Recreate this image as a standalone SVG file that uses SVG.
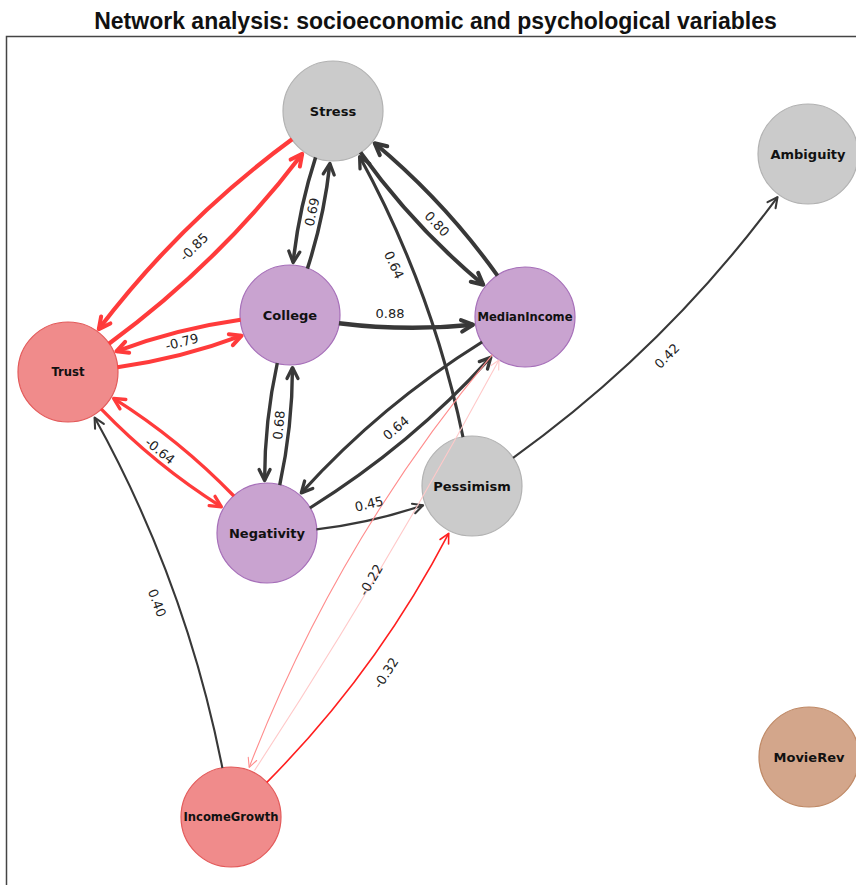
<svg xmlns="http://www.w3.org/2000/svg" width="856" height="885" viewBox="0 0 856 885">
<style>
.title{font-family:"Liberation Sans",Arial,sans-serif;font-weight:bold;font-size:23px;text-anchor:middle;fill:#111}
.nl{font-family:"DejaVu Sans",Verdana,sans-serif;font-weight:bold;font-size:13px;text-anchor:middle;fill:#111}
.nls{font-size:11.6px}
.el{font-family:"DejaVu Sans",Verdana,sans-serif;font-size:13px;text-anchor:middle;dominant-baseline:central;fill:#222}
.gray{fill:#cbcbcb;stroke:#b2b2b2;stroke-width:1.2}
.purple{fill:#c9a3d0;stroke:#a66fb9;stroke-width:1.2}
.red{fill:#f08b8b;stroke:#e35a5a;stroke-width:1.2}
.brown{fill:#d3a68b;stroke:#bf8966;stroke-width:1.2}
.e{fill:none;stroke-linecap:butt}
.dk{stroke:#383838}
.rd{stroke:#ff3b3b}
.rs{stroke:#ff1f1f}
.pk{stroke:#ff8c8c}
.pl{stroke:#ffc9c9}
.ah{fill:none;stroke-linejoin:round;stroke-linecap:round}
</style>
<defs>
<marker id="mDk4" markerUnits="userSpaceOnUse" orient="auto" overflow="visible" markerWidth="1" markerHeight="1"><path class="ah" d="M-11.5,-5.8L0,0L-11.5,5.8" stroke="#383838" stroke-width="4"/></marker>
<marker id="mDk3" markerUnits="userSpaceOnUse" orient="auto" overflow="visible" markerWidth="1" markerHeight="1"><path class="ah" d="M-11,-5.5L0,0L-11,5.5" stroke="#383838" stroke-width="3.3"/></marker>
<marker id="mDk2" markerUnits="userSpaceOnUse" orient="auto" overflow="visible" markerWidth="1" markerHeight="1"><path class="ah" d="M-10,-5L0,0L-10,5" stroke="#383838" stroke-width="2.1"/></marker>
<marker id="mRd4" markerUnits="userSpaceOnUse" orient="auto" overflow="visible" markerWidth="1" markerHeight="1"><path class="ah" d="M-11.5,-5.8L0,0L-11.5,5.8" stroke="#ff3b3b" stroke-width="4"/></marker>
<marker id="mRd3" markerUnits="userSpaceOnUse" orient="auto" overflow="visible" markerWidth="1" markerHeight="1"><path class="ah" d="M-11,-5.5L0,0L-11,5.5" stroke="#ff3b3b" stroke-width="3.3"/></marker>
<marker id="mRd1" markerUnits="userSpaceOnUse" orient="auto" overflow="visible" markerWidth="1" markerHeight="1"><path class="ah" d="M-9.5,-4.8L0,0L-9.5,4.8" stroke="#ff1f1f" stroke-width="1.6"/></marker>
<marker id="mPk" markerUnits="userSpaceOnUse" orient="auto" overflow="visible" markerWidth="1" markerHeight="1"><path class="ah" d="M-9,-4.5L0,0L-9,4.5" stroke="#ff8c8c" stroke-width="1.1"/></marker>
<marker id="mPl" markerUnits="userSpaceOnUse" orient="auto" overflow="visible" markerWidth="1" markerHeight="1"><path class="ah" d="M-9,-4.5L0,0L-9,4.5" stroke="#ffc9c9" stroke-width="1.1"/></marker>
</defs>
<rect width="856" height="885" fill="#ffffff"/>
<text class="title" x="435.5" y="28.5">Network analysis: socioeconomic and psychological variables</text>
<path d="M6.5,885V36.5H856" fill="none" stroke="#444" stroke-width="1.5"/>

<g id="node-stress"><circle cx="333" cy="111" r="50" class="gray"/><text class="nl" x="333" y="115.5">Stress</text></g>
<g id="node-ambiguity"><circle cx="808" cy="154" r="50" class="gray"/><text class="nl" x="808" y="158.5">Ambiguity</text></g>
<g id="node-college"><circle cx="290" cy="315" r="50" class="purple"/><text class="nl" x="290" y="319.5">College</text></g>
<g id="node-medianincome"><circle cx="525" cy="317" r="50" class="purple"/><text class="nl nls" x="525" y="321">MedianIncome</text></g>
<g id="node-trust"><circle cx="68" cy="372" r="50" class="red"/><text class="nl nls" x="68" y="376">Trust</text></g>
<g id="node-negativity"><circle cx="267" cy="533" r="50" class="purple"/><text class="nl" x="267" y="537.5">Negativity</text></g>
<g id="node-pessimism"><circle cx="472" cy="486" r="50" class="gray"/><text class="nl" x="472" y="490.5">Pessimism</text></g>
<g id="node-incomegrowth"><circle cx="231" cy="817" r="50" class="red"/><text class="nl nls" x="231" y="821">IncomeGrowth</text></g>
<g id="node-movierev"><circle cx="809" cy="757" r="50" class="brown"/><text class="nl" x="809" y="761.5">MovieRev</text></g>

<g id="connectors">
<path class="e rd" stroke-width="4.2" marker-end="url(#mRd4)" d="M292.1,139.3Q181.6,220.2 98.8,329.1"/>
<path class="e rd" stroke-width="4.2" marker-end="url(#mRd4)" d="M108.9,343.7Q219.4,262.8 302.2,153.9"/>
<path class="e rd" stroke-width="4" marker-end="url(#mRd4)" d="M240.6,319.7Q176.7,328.6 116.4,351.3"/>
<path class="e rd" stroke-width="4" marker-end="url(#mRd4)" d="M117.4,367.3Q181.3,358.4 241.6,335.7"/>
<path class="e rd" stroke-width="3.3" marker-end="url(#mRd3)" d="M101.1,408.9Q155.3,465.2 221.4,506.8"/>
<path class="e rd" stroke-width="3.3" marker-end="url(#mRd3)" d="M233.9,496Q179.7,439.9 113.6,398.3"/>
<path class="e dk" stroke-width="3.5" marker-end="url(#mDk3)" d="M315.6,157.4Q298.9,208.8 293.1,262.5"/>
<path class="e dk" stroke-width="3.5" marker-end="url(#mDk3)" d="M307.4,268.6Q324.1,217.2 329.9,163.5"/>
<path class="e dk" stroke-width="3.4" marker-end="url(#mDk3)" d="M277.3,363Q264.6,421 264.6,480.5"/>
<path class="e dk" stroke-width="3.4" marker-end="url(#mDk3)" d="M279.7,485.1Q292.4,427 292.5,367.6"/>
<path class="e dk" stroke-width="4" marker-end="url(#mDk4)" d="M360.5,152.4Q413.4,226.4 483.3,284.7"/>
<path class="e dk" stroke-width="4" marker-end="url(#mDk4)" d="M497.5,275.6Q444.6,201.6 374.7,143.3"/>
<path class="e dk" stroke-width="3.1" marker-end="url(#mDk3)" d="M463,437.1Q432.2,289.1 359.6,156.6"/>
<path class="e dk" stroke-width="4.4" marker-end="url(#mDk4)" d="M339,323.2Q405.9,331.6 473,324.7"/>
<path class="e dk" stroke-width="3.2" marker-end="url(#mDk3)" d="M482.1,342Q381.1,404.8 301.3,492.9"/>
<path class="e dk" stroke-width="3.2" marker-end="url(#mDk3)" d="M309.9,508Q410.9,445.2 490.8,357.2"/>
<path class="e dk" stroke-width="2.3" marker-end="url(#mDk2)" d="M316.4,529.4Q371,522.9 423.1,505.3"/>
<path class="e dk" stroke-width="2.1" marker-end="url(#mDk2)" d="M513.1,457.8Q665.8,348.2 777.5,197.1"/>
<path class="e dk" stroke-width="2.1" marker-end="url(#mDk2)" d="M222.4,768Q186,582.7 94.6,417.6"/>
<path class="e pk" stroke-width="1.1" marker-end="url(#mPk)" d="M492.4,354.6Q336.7,541 249.2,767.3"/>
<path class="e pl" stroke-width="1.1" marker-end="url(#mPl)" d="M254.5,770.5Q385,571 499,360"/>
<path class="e rs" stroke-width="1.6" marker-end="url(#mRd1)" d="M266.8,782.4Q376.6,671.6 448.7,533.3"/>
</g>

<g id="edge-labels">
<text class="el" x="194" y="247" transform="rotate(-44 194 247)">-0.85</text>
<text class="el" x="182" y="342" transform="rotate(-14 182 342)">-0.79</text>
<text class="el" x="160" y="451" transform="rotate(39 160 451)">-0.64</text>
<text class="el" x="312" y="212" transform="rotate(-78 312 212)">0.69</text>
<text class="el" x="279" y="425" transform="rotate(-84 279 425)">0.68</text>
<text class="el" x="437" y="224" transform="rotate(47 437 224)">0.80</text>
<text class="el" x="394" y="265" transform="rotate(65 394 265)">0.64</text>
<text class="el" x="390" y="313">0.88</text>
<text class="el" x="396" y="428" transform="rotate(-40 396 428)">0.64</text>
<text class="el" x="369" y="504" transform="rotate(-13 369 504)">0.45</text>
<text class="el" x="667" y="356" transform="rotate(-45 667 356)">0.42</text>
<text class="el" x="157" y="603" transform="rotate(70 157 603)">0.40</text>
<text class="el" x="371" y="580" transform="rotate(-60 371 580)">-0.22</text>
<text class="el" x="386" y="673" transform="rotate(-57 386 673)">-0.32</text>
</g>
</svg>
